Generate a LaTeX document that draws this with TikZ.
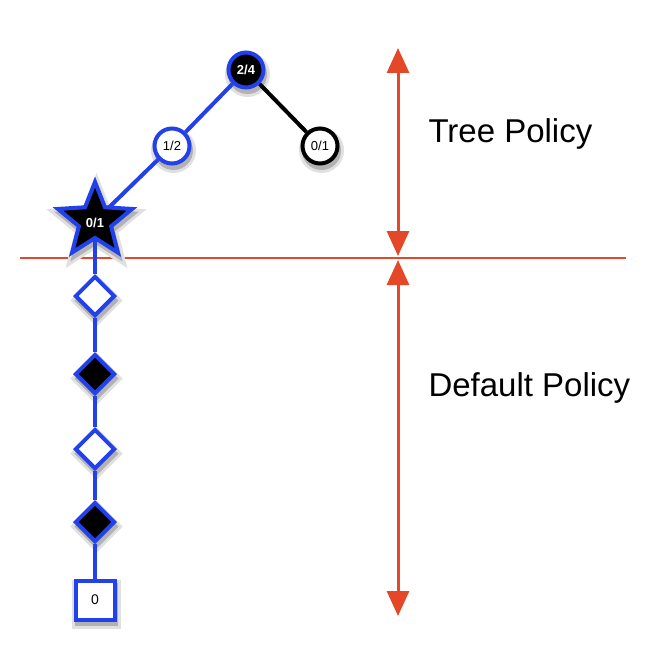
\documentclass[tikz,border=0pt]{standalone}
\usepackage{fontspec}
\setmainfont{Liberation Sans}
\usetikzlibrary{shapes.geometric,arrows.meta}
\definecolor{nblue}{RGB}{35,65,235}
\definecolor{pred}{RGB}{228,72,40}
\pgfdeclarelayer{shadowlayer}
\pgfdeclarelayer{edgelayer}
\pgfsetlayers{shadowlayer,edgelayer,main}
\tikzset{
  x=1pt,y=-1pt,
  shcol/.style={fill=black!30,draw=black!30,preaction={fill=black!12,draw=black!12,line width=10pt}},
  circshape/.style={circle,line width=4pt,minimum size=35pt,inner sep=0pt},
  diashape/.style={diamond,line width=4pt,minimum size=40pt,inner sep=0pt},
  starshape/.style={star,star points=5,star point ratio=2.3,minimum size=78pt,inner sep=0pt,line width=4pt},
  boxshape/.style={rectangle,line width=4pt,minimum size=39pt,inner sep=0pt},
  circ/.style={circshape,draw=#1,font=\fontsize{13}{15}\selectfont},
  dia/.style={diashape,draw=nblue,fill=#1},
  edge/.style={line width=4pt,draw=#1},
  redline/.style={line width=2.5pt,draw=pred},
  redarrow/.style={line width=3pt,draw=pred,{Triangle[width=22pt,length=25pt]}-{Triangle[width=22pt,length=25pt]}},
  lbl/.style={font=\fontsize{33}{40}\selectfont,anchor=west}
}
\begin{document}
\begin{tikzpicture}
\useasboundingbox (0,0) rectangle (660,650);
% red guide line
\coordinate (hl) at (20,258);
\coordinate (hr) at (626,258);
\begin{pgfonlayer}{shadowlayer}
\draw[redline] (hl) -- (hr);
\end{pgfonlayer}
% arrows
\coordinate (at) at (398,48);
\coordinate (am) at (398,256);
\coordinate (am2) at (398,260);
\coordinate (ab) at (398,616);
\draw[redarrow] (at) -- (am);
\draw[redarrow] (am2) -- (ab);
\node[lbl] (tp) at (425,134) {Tree Policy};
\node[lbl] (dp) at (425,388) {Default Policy};
% tree nodes
\node[circ=nblue,fill=black,text=white,font=\fontsize{13}{15}\selectfont\bfseries] (root) at (246,70) {2/4};
\node[circ=nblue,fill=white] (a) at (172,146) {1/2};
\node[circ=black,fill=white] (b) at (320,146) {0/1};
\node[starshape,draw=nblue,fill=black] (s) at (95,221) {};
\node[text=white,font=\fontsize{13}{15}\selectfont\bfseries] (sl) at (95,223) {0/1};
\node[dia=white] (d1) at (95,296) {};
\node[dia=black] (d2) at (95,374) {};
\node[dia=white] (d3) at (95,449) {};
\node[dia=black] (d4) at (95,522) {};
\node[boxshape,draw=nblue,fill=white,font=\fontsize{14}{16}\selectfont] (t) at (95,600) {0};
% shadows
\begin{pgfonlayer}{shadowlayer}
\node[circshape,shcol] (rootsh) at (247.5,74.5) {};
\node[circshape,shcol] (ash) at (173.5,150.5) {};
\node[circshape,shcol] (bsh) at (321.5,150.5) {};
\node[starshape,shcol] (ssh) at (96.5,225.5) {};
\node[diashape,shcol] (d1sh) at (96.5,300.5) {};
\node[diashape,shcol] (d2sh) at (96.5,378.5) {};
\node[diashape,shcol] (d3sh) at (96.5,453.5) {};
\node[diashape,shcol] (d4sh) at (96.5,526.5) {};
\node[boxshape,shcol] (tsh) at (96.5,604.5) {};
\end{pgfonlayer}
% connectors
\begin{pgfonlayer}{edgelayer}
\draw[edge=nblue] (root) -- (a);
\draw[edge=black] (root) -- (b);
\draw[edge=nblue] (a) -- (s.center);
\draw[edge=nblue] (s.center) -- (d1) -- (d2) -- (d3) -- (d4) -- (t);
\end{pgfonlayer}
\end{tikzpicture}
\end{document}
